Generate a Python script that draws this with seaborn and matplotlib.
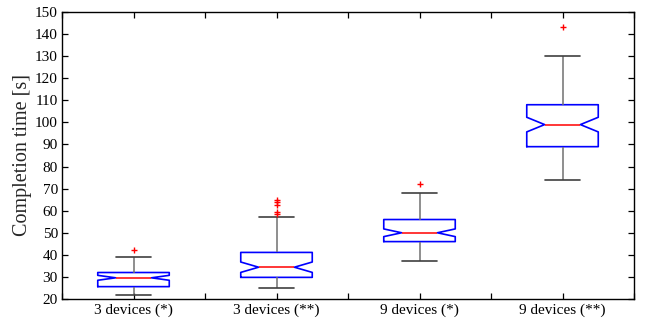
import numpy as np
import pandas as pd
import matplotlib
matplotlib.use("Agg")
import matplotlib.pyplot as plt
import seaborn as sns

categories = ["3 devices (*)", "3 devices (**)", "9 devices (*)", "9 devices (**)"]

# Completion times [s] per configuration (values estimated from the chart)
times_3_single = [
    22.0, 22.8, 23.3, 23.7, 24.0, 24.2, 24.4, 24.6, 24.7, 24.8,
    24.9, 25.0, 25.1, 25.2, 25.2, 25.3, 25.4, 25.4, 25.5, 25.5,
    25.6,
    25.8, 26.0, 26.3, 26.6, 26.9, 27.1, 27.4, 27.6, 27.8, 28.0,
    28.2, 28.4, 28.6, 28.8, 29.0, 29.1, 29.3, 29.4, 29.5,
    29.6,
    29.7, 29.8, 29.9, 30.0, 30.1, 30.3, 30.4, 30.5, 30.6, 30.8,
    30.9, 31.0, 31.2, 31.3, 31.4, 31.5, 31.7, 31.8, 31.9,
    32.0,
    32.2, 32.5, 32.8, 33.1, 33.4, 33.7, 34.0, 34.3, 34.6, 34.9,
    35.3, 35.7, 36.1, 36.5, 37.0, 37.5, 38.0, 38.5, 39.0,
    42.0,
]
times_3_double = [
    25.0, 26.2, 26.9, 27.4, 27.8, 28.1, 28.4, 28.7, 28.9, 29.1,
    29.3, 29.5, 29.6, 29.7,
    29.8,
    30.1, 30.5, 30.9, 31.3, 31.7, 32.0, 32.4, 32.8, 33.1, 33.4,
    33.7, 34.0, 34.2,
    34.4,
    34.8, 35.3, 35.8, 36.3, 36.8, 37.3, 37.8, 38.3, 38.8, 39.3,
    39.8, 40.3, 40.8,
    41.1,
    42.5, 44.0, 45.5, 47.0, 49.0, 51.0, 53.5, 55.5,
    57.0,
    58.3, 59.2, 62.5, 64.0, 65.0,
]
times_9_single = [
    37.0, 39.0, 40.5, 41.5, 42.3, 42.9, 43.4, 43.8, 44.1, 44.4,
    44.7, 44.9, 45.1, 45.3, 45.4, 45.5, 45.6, 45.7, 45.8, 45.9,
    46.0,
    46.2, 46.4, 46.6, 46.8, 47.0, 47.2, 47.4, 47.6, 47.8, 48.0,
    48.2, 48.4, 48.6, 48.8, 49.0, 49.2, 49.4, 49.6, 49.8,
    50.0,
    50.3, 50.6, 50.9, 51.2, 51.5, 51.8, 52.1, 52.4, 52.7, 53.0,
    53.3, 53.6, 53.9, 54.2, 54.5, 54.8, 55.1, 55.4, 55.7,
    56.0,
    56.4, 56.8, 57.2, 57.6, 58.0, 58.5, 59.0, 59.5, 60.0, 60.6,
    61.2, 61.8, 62.5, 63.2, 64.0, 64.8, 65.7, 66.7, 68.0,
    72.0,
]
times_9_double = [
    74.0, 77.0, 79.0, 81.0, 82.5, 83.5, 84.5, 85.2, 85.8, 86.3,
    86.8, 87.2, 87.5, 87.8, 88.0, 88.2, 88.4, 88.6, 88.8, 88.9,
    89.0,
    89.5, 90.0, 90.5, 91.0, 91.5, 92.0, 92.5, 93.0, 93.5, 94.0,
    94.5, 95.0, 95.5, 96.0, 96.5, 97.0, 97.5, 98.0, 98.5,
    99.0,
    99.5, 100.0, 100.5, 101.0, 101.5, 102.0, 102.5, 103.0, 103.5, 104.0,
    104.5, 105.0, 105.5, 106.0, 106.3, 106.6, 107.0, 107.4, 107.7,
    108.0,
    108.5, 109.0, 109.5, 110.0, 110.7, 111.4, 112.1, 112.8, 113.5, 114.3,
    115.1, 116.0, 117.0, 118.0, 119.5, 121.0, 123.0, 126.0, 130.0,
    143.0,
]

series = [times_3_single, times_3_double, times_9_single, times_9_double]
df = pd.DataFrame({
    "config": np.concatenate([[c] * len(v) for c, v in zip(categories, series)]),
    "time": np.concatenate(series),
})

sns.set_theme(style="white")
plt.rcParams["font.family"] = ["Liberation Serif", "DejaVu Serif"]
plt.rcParams["axes.edgecolor"] = "black"
plt.rcParams["axes.linewidth"] = 1.0

fig = plt.figure(figsize=(6.48, 3.22), dpi=100)
ax = fig.add_axes([62 / 648, 1 - 299 / 322, (634 - 62) / 648, (299 - 12) / 322])

sns.boxplot(
    data=df, x="config", y="time", order=categories, ax=ax,
    notch=True, fill=False, width=0.5, whis=1.5, color="blue", linewidth=1.1,
    boxprops=dict(color="#0000ff", linewidth=1.2),
    medianprops=dict(color="#ff0000", linewidth=1.1),
    whiskerprops=dict(color="#707070", linewidth=1.1),
    capprops=dict(color="#404040", linewidth=1.2),
    flierprops=dict(marker="+", markeredgecolor="#ff0000", markersize=4,
                    markeredgewidth=1.0),
)

ax.set_xlim(-0.5, 3.5)
ax.set_ylim(20, 150)
xt = np.arange(-0.5, 3.51, 0.5)
ax.set_xticks(xt)
ax.set_xticklabels([categories[int(t)] if float(t).is_integer() else "" for t in xt])
ax.set_yticks(np.arange(20, 151, 10))
ax.set_xlabel("")
ax.set_ylabel("Completion time [s]", fontsize=14.5, labelpad=2)
ax.tick_params(axis="both", which="both", direction="in", length=4, width=0.9,
               color="black", top=True, right=True, bottom=True, left=True,
               labelsize=11, pad=3, labelcolor="black")
for s in ax.spines.values():
    s.set_visible(True)
    s.set_color("black")
    s.set_linewidth(1.0)

fig.savefig("out.png", dpi=100, facecolor="white")
